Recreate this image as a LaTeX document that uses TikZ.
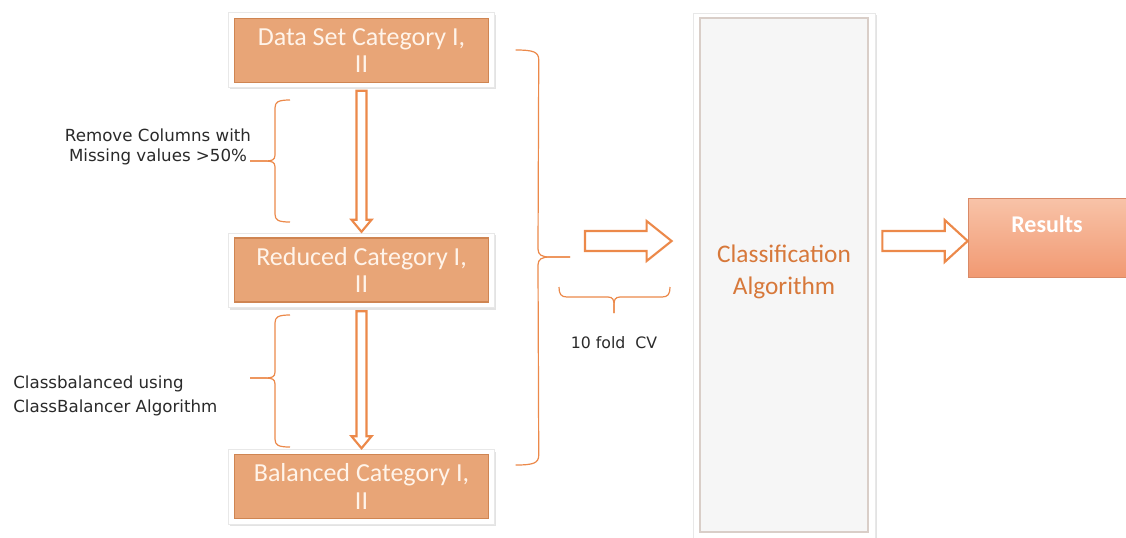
\documentclass[tikz,border=0pt]{standalone}
\usepackage{fontspec}
\setmainfont{Carlito}
\newfontfamily\labelfont{DejaVu Sans}
\usetikzlibrary{shadows,calc}
\definecolor{boxorange}{HTML}{E8A577}
\definecolor{boxedge}{HTML}{CF8552}
\definecolor{boxtext}{HTML}{FFF4EA}
\definecolor{lineorange}{HTML}{EC894A}
\definecolor{textorange}{HTML}{D7783A}
\definecolor{classfill}{HTML}{F6F6F6}
\definecolor{classedge}{HTML}{D9CEC8}
\definecolor{restop}{HTML}{F8C3A8}
\definecolor{resbot}{HTML}{F19972}
\definecolor{labeltext}{HTML}{2A2A2A}
\tikzset{
  frame/.style={rectangle, fill=white, draw=gray!18, line width=0.6pt,
    minimum width=200pt, minimum height=56pt,
    drop shadow={shadow xshift=1.2pt, shadow yshift=-1.5pt, opacity=0.22}},
  obox/.style={rectangle, fill=boxorange, draw=boxedge, line width=0.9pt,
    minimum width=191pt, minimum height=48pt, inner sep=0pt,
    text=boxtext, font=\fontsize{19.5}{20.5}\selectfont, align=center},
  hollow/.style={draw=lineorange, line width=1.6pt, fill=white, line join=miter},
  bracestyle/.style={draw=lineorange, line width=0.9pt},
  lab/.style={font=\labelfont\fontsize{12.5}{15}\selectfont, text=labeltext, inner sep=0pt}
}
\begin{document}
\begin{tikzpicture}[x=0.75pt,y=-0.75pt]
\useasboundingbox (0,0) rectangle (1126,537);
\fill[white] (0,0) rectangle (1126,537);

% left column boxes
\node[frame] (f1) at (361.5,50) {};
\node[obox] (b1) at (361.5,50.5) {Data Set Category I,\\II};
\node[frame] (f2) at (361.5,270.5) {};
\node[obox] (b2) at (361.5,270) {Reduced Category I,\\II};
\node[frame] (f3) at (361.5,487) {};
\node[obox] (b3) at (361.5,486.5) {Balanced Category I,\\II};

% classification box
\node[frame, minimum width=136.5pt, minimum height=399pt] (fc) at (784,279) {};
\node[rectangle, fill=classfill, draw=classedge, line width=1.2pt,
      minimum width=126pt, minimum height=385.5pt, align=center,
      text=textorange, font=\fontsize{19}{23.5}\selectfont, text depth=8pt] (cls) at (784,275)
      {Classification\\Algorithm};

% results box
\node[rectangle, top color=restop, bottom color=resbot, draw=resbot!90!black, line width=0.5pt,
      minimum width=118.5pt, minimum height=59.25pt, text=white,
      font=\bfseries\fontsize{18}{20}\selectfont, text height=12pt, text depth=20pt] (res) at (1047,237.5) {Results};

% down arrows
\coordinate (d1s) at ($(f1.south)+(0,3)$);
\coordinate (d1e) at ($(f2.north)+(0,-1)$);
\draw[hollow] ($(d1s)+(-5,0)$) -- ($(d1e)+(-5,-12)$) -- ($(d1e)+(-10,-12)$) -- (d1e)
  -- ($(d1e)+(10,-12)$) -- ($(d1e)+(5,-12)$) -- ($(d1s)+(5,0)$) -- cycle;
\coordinate (d2s) at ($(f2.south)+(0,3)$);
\coordinate (d2e) at ($(f3.north)+(0,-1)$);
\draw[hollow] ($(d2s)+(-5,0)$) -- ($(d2e)+(-5,-12)$) -- ($(d2e)+(-10,-12)$) -- (d2e)
  -- ($(d2e)+(10,-12)$) -- ($(d2e)+(5,-12)$) -- ($(d2s)+(5,0)$) -- cycle;

% right arrows
\coordinate (h1s) at (585,241);
\coordinate (h1e) at ($(fc.west)+(-21,-38)$);
\draw[hollow] ($(h1s)+(0,-10)$) -- ($(h1e)+(-25,-10)$) -- ($(h1e)+(-25,-20)$) -- (h1e)
  -- ($(h1e)+(-25,20)$) -- ($(h1e)+(-25,10)$) -- ($(h1s)+(0,10)$) -- cycle;
\coordinate (h2s) at ($(fc.east)+(7,-38)$);
\coordinate (h2e) at ($(res.west)+(0,3.5)$);
\draw[hollow] ($(h2s)+(0,-10)$) -- ($(h2e)+(-23,-10)$) -- ($(h2e)+(-23,-21)$) -- (h2e)
  -- ($(h2e)+(-23,21)$) -- ($(h2e)+(-23,10)$) -- ($(h2s)+(0,10)$) -- cycle;

% brace 1 (tip left)
\coordinate (br1t) at (290,100);
\coordinate (br1b) at (290,222);
\coordinate (br1m) at (250,161);
\draw[bracestyle] (br1t) .. controls ($(br1t)+(-12,0)$) and ($(br1t)+(-15,2)$) .. ($(br1t)+(-15,8)$)
  -- ($(br1m)+(25,-6)$) .. controls ($(br1m)+(25,-1)$) and ($(br1m)+(22,0)$) .. ($(br1m)+(15,0)$) -- (br1m);
\draw[bracestyle] (br1m) -- ($(br1m)+(15,0)$) .. controls ($(br1m)+(22,0)$) and ($(br1m)+(25,1)$) .. ($(br1m)+(25,6)$)
  -- ($(br1b)+(-15,-8)$) .. controls ($(br1b)+(-15,-2)$) and ($(br1b)+(-12,0)$) .. (br1b);

% brace 2 (tip left)
\coordinate (br2t) at (290,315);
\coordinate (br2b) at (290,447);
\coordinate (br2m) at (250,378);
\draw[bracestyle] (br2t) .. controls ($(br2t)+(-12,0)$) and ($(br2t)+(-15,2)$) .. ($(br2t)+(-15,8)$)
  -- ($(br2m)+(25,-6)$) .. controls ($(br2m)+(25,-1)$) and ($(br2m)+(22,0)$) .. ($(br2m)+(15,0)$) -- (br2m);
\draw[bracestyle] (br2m) -- ($(br2m)+(15,0)$) .. controls ($(br2m)+(22,0)$) and ($(br2m)+(25,1)$) .. ($(br2m)+(25,6)$)
  -- ($(br2b)+(-15,-8)$) .. controls ($(br2b)+(-15,-2)$) and ($(br2b)+(-12,0)$) .. (br2b);

% big brace (tip right)
\coordinate (br3t) at ($(f1.east)+(20.5,0)$);
\coordinate (br3b) at ($(f3.east)+(20.5,-22)$);
\coordinate (br3m) at (570,257);
\draw[bracestyle] (br3t) .. controls ($(br3t)+(18,0)$) and ($(br3t)+(23,2)$) .. ($(br3t)+(23,10)$)
  -- ($(br3m)+(-32,-8)$) .. controls ($(br3m)+(-32,-2)$) and ($(br3m)+(-28,0)$) .. ($(br3m)+(-20,0)$) -- (br3m);
\draw[bracestyle] (br3m) -- ($(br3m)+(-20,0)$) .. controls ($(br3m)+(-28,0)$) and ($(br3m)+(-32,2)$) .. ($(br3m)+(-32,8)$)
  -- ($(br3b)+(23,-10)$) .. controls ($(br3b)+(23,-2)$) and ($(br3b)+(18,0)$) .. (br3b);

% bottom brace (tip down)
\coordinate (br4l) at (559,287);
\coordinate (br4r) at (670,287);
\coordinate (br4m) at (614,313);
\draw[bracestyle] (br4l) .. controls ($(br4l)+(0,7)$) and ($(br4l)+(2,10)$) .. ($(br4l)+(8,10)$)
  -- ($(br4m)+(-6,-16)$) .. controls ($(br4m)+(-1,-16)$) and ($(br4m)+(0,-13)$) .. ($(br4m)+(0,-8)$) -- (br4m);
\draw[bracestyle] (br4m) -- ($(br4m)+(0,-8)$) .. controls ($(br4m)+(0,-13)$) and ($(br4m)+(1,-16)$) .. ($(br4m)+(6,-16)$)
  -- ($(br4r)+(-8,10)$) .. controls ($(br4r)+(-2,10)$) and ($(br4r)+(0,7)$) .. (br4r);

% labels
\node[lab, align=center] (lab1) at (158,147) {Remove Columns with\\Missing values >50\%};
\node[lab, align=left, anchor=west, font=\labelfont\fontsize{12.5}{18}\selectfont] (lab2) at (13,396) {Classbalanced using\\ClassBalancer Algorithm};
\node[lab, font=\labelfont\fontsize{11.8}{13}\selectfont] (lab3) at (614,343) {10 fold\ \ CV};
\end{tikzpicture}
\end{document}
